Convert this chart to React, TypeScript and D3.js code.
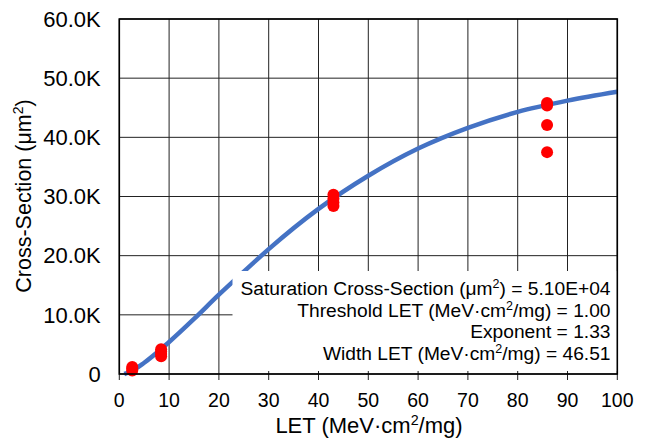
import React from "react";
import * as d3 from "d3";

const curveLET = [1, 2, 5, 10, 15, 20, 25, 30, 40, 50, 60, 70, 80, 90, 100];
const curveXS = [0, 300, 1900, 5400, 9300, 13400, 17300, 21100, 27900, 33500, 38100, 41600, 44300, 46200, 47700];

const pointLET = [2.6, 2.6, 2.6, 8.4, 8.4, 8.4, 8.4, 43, 43, 43, 43, 85.9, 85.9, 85.9, 85.9];
const pointXS = [600, 900, 1200, 3000, 3400, 3800, 4200, 28400, 29000, 29600, 30300, 45400, 45800, 42100, 37500];

const xTicks = [0, 10, 20, 30, 40, 50, 60, 70, 80, 90, 100];
const yTicks = [0, 10000, 20000, 30000, 40000, 50000, 60000];
const yTickLabels = ["0", "10.0K", "20.0K", "30.0K", "40.0K", "50.0K", "60.0K"];

const fitLines = [
  "Saturation Cross-Section (μm²) = 5.10E+04",
  "Threshold LET (MeV·cm²/mg) = 1.00",
  "Exponent = 1.33",
  "Width LET (MeV·cm²/mg) = 46.51",
];

function Sup({ text }: { text: string }) {
  const parts = text.split("²");
  return (
    <>
      {parts.map((p, i) => (
        <React.Fragment key={i}>
          {i > 0 && (
            <tspan baselineShift="super" fontSize="0.65em">2</tspan>
          )}
          {i > 0 ? <tspan baselineShift="0">{p}</tspan> : p}
        </React.Fragment>
      ))}
    </>
  );
}

export default function App() {
  const W = 648, H = 445;
  const left = 119.3, right = 617.3, top = 19, bottom = 374;
  const x = d3.scaleLinear().domain([0, 100]).range([left, right]);
  const y = d3.scaleLinear().domain([0, 60000]).range([bottom, top]);
  const line = d3
    .line<number>()
    .x((_, i) => x(curveLET[i]))
    .y((d) => y(d))
    .curve(d3.curveMonotoneX);
  const font = "'Liberation Sans', Arial, sans-serif";
  const box = { x0: 232.5, x1: 617, y0: 271, y1: 371 };
  return (
    <svg width={W} height={H} style={{ position: "absolute", left: 0, top: 0, background: "#fff" }} fontFamily={font}>
      <rect x={0} y={0} width={W} height={H} fill="#fff" />
      {xTicks.map((t) => (
        <line key={"gx" + t} x1={x(t)} x2={x(t)} y1={top} y2={bottom + 6} stroke="#222" strokeWidth={1} />
      ))}
      {yTicks.map((t) => (
        <line key={"gy" + t} x1={left} x2={right} y1={y(t)} y2={y(t)} stroke="#222" strokeWidth={1} />
      ))}
      <path d={line(curveXS) || ""} fill="none" stroke="#4472C4" strokeWidth={4.5} />
      {pointLET.map((l, i) => (
        <circle key={"p" + i} cx={x(l)} cy={y(pointXS[i])} r={6} fill="#FF0000" />
      ))}
      <rect x={box.x0} y={box.y0} width={box.x1 - box.x0} height={box.y1 - box.y0} fill="#fff" />
      <rect x={left} y={top} width={right - left} height={bottom - top} fill="none" stroke="#000" strokeWidth={1.6} />
      {xTicks.map((t) => (
        <text key={"tx" + t} x={x(t)} y={407} textAnchor="middle" fontSize={19.5} fill="#000">
          {t}
        </text>
      ))}
      {yTicks.map((t, i) => (
        <text key={"ty" + t} x={100.7} y={y(t) + 7.8} textAnchor="end" fontSize={22} fill="#000">
          {yTickLabels[i]}
        </text>
      ))}
      <text x={369} y={433} textAnchor="middle" fontSize={22} fill="#000">
        <Sup text="LET (MeV·cm²/mg)" />
      </text>
      <text transform={`translate(31,196) rotate(-90)`} textAnchor="middle" fontSize={21.5} fill="#000">
        <Sup text="Cross-Section (μm²)" />
      </text>
      {fitLines.map((s, i) => (
        <text key={"f" + i} x={610.5} y={295 + i * 21.7} textAnchor="end" fontSize={19.2} fill="#000">
          <Sup text={s} />
        </text>
      ))}
    </svg>
  );
}
